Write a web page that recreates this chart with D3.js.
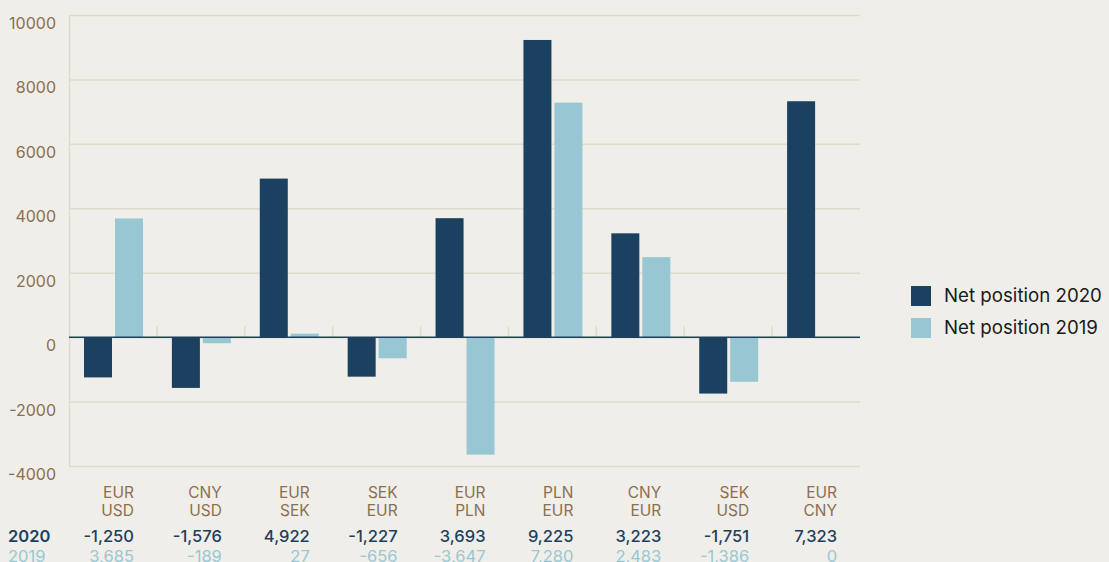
<!DOCTYPE html>
<html>
<head>
<meta charset="utf-8">
<script src="https://cdn.jsdelivr.net/npm/d3@7"></script>
<style>
  body { margin: 0; background: #f0eee9; }
  svg { display: block; font-family: Inter, "Liberation Sans", sans-serif; }
</style>
</head>
<body>
<div id="vis"></div>
<script>
// currency pairs (top / bottom line of the label)
const pairTop = ['EUR', 'CNY', 'EUR', 'SEK', 'EUR', 'PLN', 'CNY', 'SEK', 'EUR'];
const pairBottom = ['USD', 'USD', 'SEK', 'EUR', 'PLN', 'EUR', 'EUR', 'USD', 'CNY'];
const net2020 = [-1250, -1576, 4922, -1227, 3693, 9225, 3223, -1751, 7323];
const net2019 = [3685, -189, 27, -656, -3647, 7280, 2483, -1386, 0];
const yTicks = [-4000, -2000, 0, 2000, 4000, 6000, 8000, 10000];
const seriesNames = ['Net position 2020', 'Net position 2019'];

const W = 1109, H = 562;
const margin = { top: 15, left: 69, right: 249, bottom: 96 };

const dark = '#1c405f';
const light = '#98c7d3';
const brown = '#8c6e50';
const grid = '#e0d9cc';

const svg = d3.select('#vis')
  .append('svg')
    .attr('width', W)
    .attr('height', H)
    .style('background-color', '#f0eee9');

const cats = pairTop.map((d, i) => i);

let xScale = d3.scaleBand()
  .domain(cats)
  .range([margin.left, W - margin.right]);

let yScale = d3.scaleLinear()
  .domain([-4000, 10000])
  .range([H - margin.bottom, margin.top]);

// gridlines
svg.append('g')
  .selectAll('line')
  .data(yTicks)
  .enter().append('line')
    .attr('x1', margin.left)
    .attr('x2', W - margin.right)
    .attr('y1', d => yScale(d) + 0.5)
    .attr('y2', d => yScale(d) + 0.5)
    .attr('stroke', grid)
    .attr('stroke-width', 1.5);

// y axis line
svg.append('line')
  .attr('x1', margin.left + 0.5)
  .attr('x2', margin.left + 0.5)
  .attr('y1', yScale(10000))
  .attr('y2', yScale(-4000))
  .attr('stroke', grid)
  .attr('stroke-width', 1.5);

// y tick labels
svg.append('g')
  .selectAll('text')
  .data(yTicks)
  .enter().append('text')
    .attr('x', 56)
    .attr('y', d => yScale(d) + 14)
    .attr('text-anchor', 'end')
    .style('font-size', '16px')
    .style('fill', brown)
    .text(d => d);

// small category ticks above zero line
svg.append('g')
  .selectAll('line')
  .data(cats.slice(1))
  .enter().append('line')
    .attr('x1', d => xScale(d))
    .attr('x2', d => xScale(d))
    .attr('y1', yScale(0) - 11)
    .attr('y2', yScale(0))
    .attr('stroke', grid)
    .attr('stroke-width', 1.5);

// bars (tiny non-zero values get a minimum visible height, like the original)
const barW = 28, gap = 3, pad = 15;
const barH = d => d === 0 ? 0 : Math.max(3.5, Math.abs(yScale(d) - yScale(0)));
const barY = d => d >= 0 ? yScale(0) - barH(d) : yScale(0);
const bars = svg.append('g');
bars.selectAll('rect.s20')
  .data(net2020)
  .enter().append('rect')
    .attr('class', 's20')
    .attr('x', (d, i) => xScale(i) + pad)
    .attr('y', barY)
    .attr('width', barW)
    .attr('height', barH)
    .attr('fill', dark);
bars.selectAll('rect.s19')
  .data(net2019)
  .enter().append('rect')
    .attr('class', 's19')
    .attr('x', (d, i) => xScale(i) + pad + barW + gap)
    .attr('y', barY)
    .attr('width', barW)
    .attr('height', barH)
    .attr('fill', light);

// zero line
svg.append('line')
  .attr('x1', margin.left)
  .attr('x2', W - margin.right)
  .attr('y1', yScale(0))
  .attr('y2', yScale(0))
  .attr('stroke', dark)
  .attr('stroke-width', 1.5);

// table under the chart
const labelX = i => xScale(i) + xScale.bandwidth() / 2 + 21;
const fmt = d3.format(',');
const table = svg.append('g').style('font-size', '15.5px');

table.selectAll('text.top')
  .data(pairTop)
  .enter().append('text')
    .attr('x', (d, i) => labelX(i))
    .attr('y', 498)
    .attr('text-anchor', 'end')
    .style('fill', brown)
    .text(d => d);
table.selectAll('text.bot')
  .data(pairBottom)
  .enter().append('text')
    .attr('x', (d, i) => labelX(i))
    .attr('y', 516)
    .attr('text-anchor', 'end')
    .style('fill', brown)
    .text(d => d);
table.selectAll('text.v20')
  .data(net2020)
  .enter().append('text')
    .attr('x', (d, i) => labelX(i))
    .attr('y', 542)
    .attr('text-anchor', 'end')
    .style('fill', dark)
    .style('font-size', '16.5px')
    .style('font-weight', 500)
    .text(d => fmt(d).replace('−', '-'));
table.selectAll('text.v19')
  .data(net2019)
  .enter().append('text')
    .attr('x', (d, i) => labelX(i))
    .attr('y', 562)
    .attr('text-anchor', 'end')
    .style('fill', light)
    .style('font-size', '16.5px')
    .text(d => fmt(d).replace('−', '-'));

table.append('text')
  .attr('x', 8).attr('y', 542)
  .style('fill', dark).style('font-size', '16.5px').style('font-weight', 600)
  .text('2020');
table.append('text')
  .attr('x', 8).attr('y', 562)
  .style('fill', light).style('font-size', '16.5px')
  .text('2019');

// legend
const legend = svg.append('g')
  .selectAll('g')
  .data(seriesNames)
  .enter().append('g')
    .attr('transform', (d, i) => `translate(911, ${286 + i * 32})`);
legend.append('rect')
  .attr('width', 20)
  .attr('height', 20)
  .attr('fill', (d, i) => i === 0 ? dark : light);
legend.append('text')
  .attr('x', 33)
  .attr('y', 16)
  .style('font-size', '18.7px')
  .style('fill', '#1a1a1a')
  .text(d => d);
</script>
</body>
</html>
